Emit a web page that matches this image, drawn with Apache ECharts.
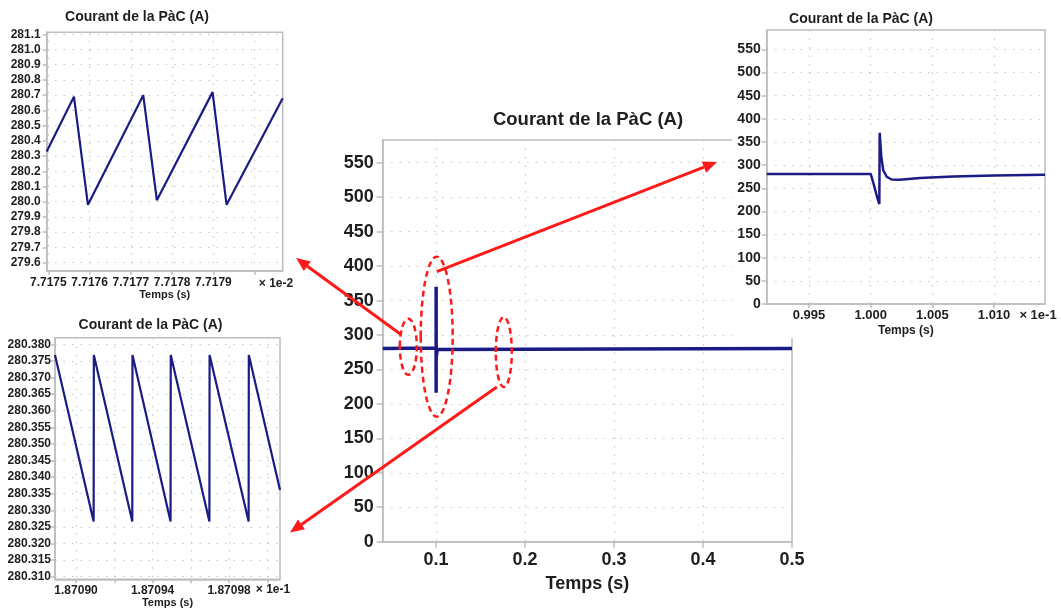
<!DOCTYPE html>
<html><head><meta charset="utf-8">
<script src="https://cdn.jsdelivr.net/npm/echarts@6/dist/echarts.min.js"></script>
<style>html,body{margin:0;padding:0;background:#fff}#c{width:1061px;height:610px}</style>
</head><body><div id="c"></div>
<script>
// ---------- DATA ----------
// Main view: 0.04 – 0.5 s
const mainTime    = [0.04, 0.1, 0.10007, 0.100073, 0.1001, 0.1002, 0.1014, 0.5];
const mainCurrent = [280.3, 281, 216, 370, 289, 268.5, 279, 280.3];
const mainXTicks  = [0.1, 0.2, 0.3, 0.4, 0.5];
const mainYTicks  = [0, 50, 100, 150, 200, 250, 300, 350, 400, 450, 500, 550];

// Zoom around the load step (x in units of 1e-1 s)
const trTime    = [0.99157, 1.0000, 1.00021, 1.00040, 1.00055, 1.00070, 1.00073, 1.00086, 1.00102, 1.00130, 1.00170, 1.00237, 1.0040, 1.0067, 1.0100, 1.01413];
const trCurrent = [281, 281, 262, 243, 228, 216, 370, 318, 289, 275, 269, 268.5, 272, 275.5, 277.5, 279];
const trXTicks  = [0.995, 1.000, 1.005, 1.010];
const trYTicks  = [0, 50, 100, 150, 200, 250, 300, 350, 400, 450, 500, 550];

// Ripple before the step (x in units of 1e-2 s)
const tlTime    = [7.717496, 7.717562, 7.717596, 7.717730, 7.717763, 7.717898, 7.717932, 7.718068];
const tlCurrent = [280.33, 280.69, 279.98, 280.70, 280.01, 280.72, 279.98, 280.68];
const tlXTicks  = [7.7175, 7.7176, 7.7177, 7.7178, 7.7179, 7.7180];
const tlXLabels = [7.7175, 7.7176, 7.7177, 7.7178, 7.7179];
const tlYTicks  = [279.6, 279.7, 279.8, 279.9, 280.0, 280.1, 280.2, 280.3, 280.4, 280.5, 280.6, 280.7, 280.8, 280.9, 281.0, 281.1];

// Ripple after the step (x in units of 1e-1 s)
const blTime    = [1.870889, 1.8709092, 1.8709093, 1.8709294, 1.8709295, 1.8709494, 1.8709495, 1.8709697, 1.8709698, 1.8709902, 1.8709903, 1.8710066];
const blCurrent = [280.3768, 280.3266, 280.3768, 280.3266, 280.3768, 280.3266, 280.3768, 280.3266, 280.3768, 280.3266, 280.3768, 280.3361];
const blXTicks  = [1.87090, 1.87092, 1.87094, 1.87096, 1.87098, 1.87100];
const blXLabels = [1.87090, 1.87094, 1.87098];
const blYTicks  = [280.310, 280.315, 280.320, 280.325, 280.330, 280.335, 280.340, 280.345, 280.350, 280.355, 280.360, 280.365, 280.370, 280.375, 280.380];

const titleText = 'Courant de la PàC (A)';
const xName = 'Temps (s)';

// ---------- STYLE / LAYOUT ----------
const FONT = "'Liberation Sans', Arial, sans-serif";
const TXT = '#1e1e1e';
const GRAYL = '#bdbdbd';
const NAVY = '#1b1b86';
const RED = '#ff1a1a';

const zip = (a, b) => a.map((v, i) => [v, b[i]]);

function axis(o) {
  return {
    type: 'value', gridIndex: o.grid, min: o.min, max: o.max, z: o.z || 0,
    name: o.name || '', nameLocation: 'middle', nameGap: o.nameGap || 0,
    nameTextStyle: {fontFamily: FONT, fontWeight: 'bold', fontSize: o.nameSize || 12, color: TXT},
    axisLine: {show: true, onZero: false, lineStyle: {color: GRAYL, width: 1.5}},
    axisTick: {show: true, length: o.tickLen, customValues: o.ticks, lineStyle: {color: GRAYL, width: 1.5}},
    splitLine: {show: true, lineStyle: {color: '#c6c6c6', width: 1.2, type: [1.5, 7]}},
    axisLabel: {customValues: o.labels || o.ticks, fontFamily: FONT, fontWeight: 'bold', fontSize: o.fs,
      color: TXT, margin: o.margin, formatter: v => Number(v).toFixed(o.dec), hideOverlap: false}
  };
}

const chart = echarts.init(document.getElementById('c'), null, {renderer: 'canvas', width: 1061, height: 610});

const gridBase = {show: true, borderColor: GRAYL, borderWidth: 1.5, backgroundColor: 'transparent', containLabel: false};

chart.setOption({
  animation: false,
  backgroundColor: '#fff',
  grid: [
    Object.assign({left: 382.7, top: 140, width: 409.3, height: 401.7, z: 0}, gridBase),
    Object.assign({left: 46.7, top: 32.3, width: 236, height: 238.4, z: 0}, gridBase),
    Object.assign({left: 55, top: 337.7, width: 225, height: 241.6, z: 0}, gridBase),
    Object.assign({left: 766.7, top: 30, width: 278.3, height: 274, z: 11}, gridBase)
  ],
  xAxis: [
    axis({grid: 0, min: 0.04, max: 0.5, ticks: mainXTicks, dec: 1, fs: 18, margin: 9, tickLen: 6, name: xName, nameGap: 33, nameSize: 18}),
    axis({grid: 1, min: 7.717496, max: 7.718068, ticks: tlXTicks, labels: tlXLabels, dec: 4, fs: 12, margin: 6, tickLen: 4, name: xName, nameGap: 19, nameSize: 11}),
    axis({grid: 2, min: 1.870889, max: 1.8710066, ticks: blXTicks, labels: blXLabels, dec: 5, fs: 12, margin: 5, tickLen: 4, name: xName, nameGap: 18, nameSize: 11}),
    axis({grid: 3, min: 0.99157, max: 1.01413, ticks: trXTicks, dec: 3, fs: 13, margin: 5, tickLen: 4, name: xName, nameGap: 21, nameSize: 12, z: 11})
  ],
  yAxis: [
    axis({grid: 0, min: 0, max: 583, ticks: mainYTicks, dec: 0, fs: 18, margin: 9, tickLen: 6}),
    axis({grid: 1, min: 279.547, max: 281.113, ticks: tlYTicks, dec: 1, fs: 12, margin: 6, tickLen: 4}),
    axis({grid: 2, min: 280.3092, max: 280.382, ticks: blYTicks, dec: 3, fs: 12, margin: 4, tickLen: 4}),
    axis({grid: 3, min: 0, max: 592, ticks: trYTicks, dec: 0, fs: 14, margin: 6, tickLen: 5, z: 11})
  ],
  series: [
    {type: 'line', xAxisIndex: 0, yAxisIndex: 0, data: zip(mainTime, mainCurrent), symbol: 'none', lineStyle: {color: NAVY, width: 3.5}, z: 2, silent: true},
    {type: 'line', xAxisIndex: 1, yAxisIndex: 1, data: zip(tlTime, tlCurrent), symbol: 'none', lineStyle: {color: NAVY, width: 2.2}, z: 2, silent: true},
    {type: 'line', xAxisIndex: 2, yAxisIndex: 2, data: zip(blTime, blCurrent), symbol: 'none', lineStyle: {color: NAVY, width: 2.2}, z: 2, silent: true},
    {type: 'line', xAxisIndex: 3, yAxisIndex: 3, data: zip(trTime, trCurrent), symbol: 'none', lineStyle: {color: NAVY, width: 2.5}, z: 12, silent: true}
  ]
});

// ---------- ANNOTATIONS ----------
function txt(x, y, text, size, z) {
  return {type: 'text', x: x, y: y, z: z || 20, silent: true,
    style: {text: text, fontFamily: FONT, fontWeight: 'bold', fontSize: size, fill: TXT, align: 'center', verticalAlign: 'middle'}};
}
const px = (g, p) => chart.convertToPixel({gridIndex: g}, p);

// zoomed regions circled on the main view: [time, current, rx, ry]
const zones = [[0.0688, 283, 8.5, 28], [0.1007, 297.5, 16, 80], [0.1761, 275.3, 8, 35]];
const zc = zones.map(z => px(0, [z[0], z[1]]));

function arrow(x1, y1, x2, y2) {
  const dx = x2 - x1, dy = y2 - y1, L = Math.hypot(dx, dy), ux = dx / L, uy = dy / L;
  const hl = 14, hw = 6;
  const bx = x2 - ux * hl, by = y2 - uy * hl;
  return [
    {type: 'line', z: 30, silent: true, shape: {x1: x1, y1: y1, x2: bx, y2: by}, style: {stroke: RED, lineWidth: 3}},
    {type: 'polygon', z: 30, silent: true, shape: {points: [[x2, y2], [bx - uy * hw, by + ux * hw], [bx + uy * hw, by - ux * hw]]}, style: {fill: RED}}
  ];
}

const els = [
  {type: 'rect', z: 10, silent: true, shape: {x: 732, y: 0, width: 329, height: 338}, style: {fill: '#fff'}},
  txt(588, 120, titleText, 18.5),
  txt(137, 17.5, titleText, 14),
  txt(150.5, 325.5, titleText, 14),
  txt(861, 19, titleText, 14),
  txt(276, 283.5, '× 1e-2', 12),
  txt(273, 590, '× 1e-1', 12),
  txt(1038, 315, '× 1e-1', 13)
];
zones.forEach((z, i) => {
  els.push({type: 'ellipse', z: 30, silent: true, shape: {cx: zc[i][0], cy: zc[i][1], rx: z[2], ry: z[3]},
    style: {fill: 'none', stroke: RED, lineWidth: 2.5, lineDash: [6, 4]}});
});
els.push(...arrow(zc[0][0] - 7, zc[0][1] - 12, 296, 258));
els.push(...arrow(zc[1][0], zc[1][1] - 65, 717, 162));
els.push(...arrow(zc[2][0] - 7, zc[2][1] + 35, 290, 532.5));

chart.setOption({graphic: {elements: els}});
</script>
</body></html>
